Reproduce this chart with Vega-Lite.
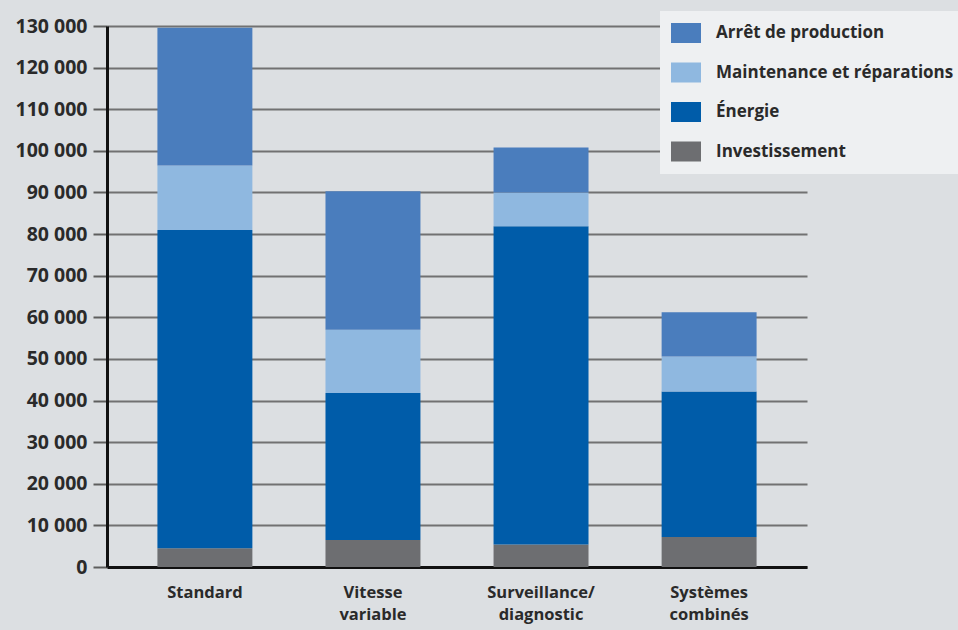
{
  "$schema": "https://vega.github.io/schema/vega-lite/v6.json",
  "autosize": {"type": "none"},
  "width": 700,
  "height": 541,
  "padding": {"left": 107, "top": 26, "right": 151, "bottom": 63},
  "background": "#dcdfe2",
  "config": {
    "view": {"stroke": null},
    "font": "Open Sans"
  },
  "data": {
    "values": [
      {"solution": "Standard", "poste": "Investissement", "rang": 1, "cout": 4500},
      {"solution": "Standard", "poste": "Énergie", "rang": 2, "cout": 76500},
      {"solution": "Standard", "poste": "Maintenance et réparations", "rang": 3, "cout": 15500},
      {"solution": "Standard", "poste": "Arrêt de production", "rang": 4, "cout": 33100},
      {"solution": "Vitesse variable", "poste": "Investissement", "rang": 1, "cout": 6500},
      {"solution": "Vitesse variable", "poste": "Énergie", "rang": 2, "cout": 35300},
      {"solution": "Vitesse variable", "poste": "Maintenance et réparations", "rang": 3, "cout": 15200},
      {"solution": "Vitesse variable", "poste": "Arrêt de production", "rang": 4, "cout": 33300},
      {"solution": "Surveillance/diagnostic", "poste": "Investissement", "rang": 1, "cout": 5400},
      {"solution": "Surveillance/diagnostic", "poste": "Énergie", "rang": 2, "cout": 76500},
      {"solution": "Surveillance/diagnostic", "poste": "Maintenance et réparations", "rang": 3, "cout": 8100},
      {"solution": "Surveillance/diagnostic", "poste": "Arrêt de production", "rang": 4, "cout": 10800},
      {"solution": "Systèmes combinés", "poste": "Investissement", "rang": 1, "cout": 7200},
      {"solution": "Systèmes combinés", "poste": "Énergie", "rang": 2, "cout": 35000},
      {"solution": "Systèmes combinés", "poste": "Maintenance et réparations", "rang": 3, "cout": 8400},
      {"solution": "Systèmes combinés", "poste": "Arrêt de production", "rang": 4, "cout": 10600}
    ]
  },
  "mark": {"type": "bar"},
  "encoding": {
    "x": {
      "field": "solution",
      "type": "nominal",
      "sort": ["Standard", "Vitesse variable", "Surveillance/diagnostic", "Systèmes combinés"],
      "scale": {"paddingInner": 0.435, "paddingOuter": 0.3},
      "axis": {
        "title": null,
        "labelAngle": 0,
        "labelFont": "Open Sans",
        "labelFontWeight": "bold",
        "labelFontSize": 16.5,
        "labelColor": "#2a2a2a",
        "labelPadding": 17,
        "labelLineHeight": 22,
        "labelBaseline": "top",
        "labelExpr": "datum.label == 'Vitesse variable' ? ['Vitesse', 'variable'] : datum.label == 'Surveillance/diagnostic' ? ['Surveillance/', 'diagnostic'] : datum.label == 'Systèmes combinés' ? ['Systèmes', 'combinés'] : datum.label",
        "ticks": false,
        "domainColor": "#111111",
        "domainWidth": 3,
        "grid": false
      }
    },
    "y": {
      "field": "cout",
      "type": "quantitative",
      "stack": "zero",
      "scale": {"domain": [0, 130000], "nice": false},
      "axis": {
        "title": null,
        "values": [0, 10000, 20000, 30000, 40000, 50000, 60000, 70000, 80000, 90000, 100000, 110000, 120000, 130000],
        "labelExpr": "replace(format(datum.value, ','), ',', ' ')",
        "labelFont": "Open Sans",
        "labelFontWeight": "bold",
        "labelFontSize": 19.5,
        "labelColor": "#2a2a2a",
        "labelPadding": 6,
        "tickSize": 14,
        "tickColor": "#5e5e5e",
        "tickWidth": 2,
        "domainColor": "#111111",
        "domainWidth": 3,
        "grid": true,
        "gridColor": "#5e5e5e",
        "gridWidth": 2,
        "gridOpacity": 0.85
      }
    },
    "color": {
      "field": "poste",
      "type": "nominal",
      "scale": {
        "domain": ["Arrêt de production", "Maintenance et réparations", "Énergie", "Investissement"],
        "range": ["#4a7dbd", "#8fb8e0", "#005ca9", "#6d6e71"]
      },
      "legend": {
        "title": null,
        "orient": "none",
        "legendX": 553,
        "legendY": -15,
        "fillColor": "#eef0f2",
        "padding": 12,
        "symbolType": "M-1.5,-1H1.5V1H-1.5Z",
        "symbolSize": 400,
        "symbolStrokeWidth": 0,
        "symbolOpacity": 1,
        "symbolOffset": 4,
        "labelOffset": 20,
        "rowPadding": 19.5,
        "labelFont": "Open Sans",
        "labelFontWeight": "bold",
        "labelFontSize": 17,
        "labelColor": "#2a2a2a",
        "labelLimit": 400
      }
    },
    "order": {"field": "rang", "type": "quantitative", "sort": "ascending"}
  }
}
